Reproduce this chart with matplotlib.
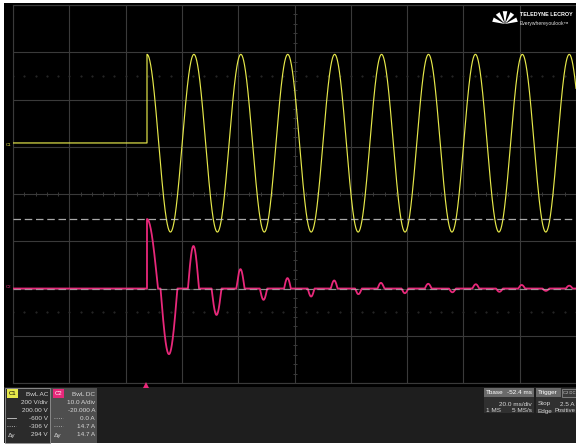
import numpy as np
import matplotlib
matplotlib.use('Agg')
import matplotlib.pyplot as plt
from matplotlib.patches import Rectangle, Polygon

''' Scope settings read off the screen '''
t_left = -47.6           # ms at left grid line (delay -52.4 ms, 20 ms/div)
ms_div = 20.0
v_div, v_offset = 200.0, 200.0    # C1
a_div, a_offset = 10.0, -20.0     # C2

''' C1 line voltage '''
v_pre = 16.0             # V before the switch closes
v_dc = 15.0
v_amp = 376.0
v_freq = 60.0            # Hz

''' C2 inrush current lobes: centre (ms), peak (A), width (ms) '''
lobe_t = [0.0, 7.8, 16.5, 24.7, 33.2, 41.4, 49.9, 58.3, 66.5, 75.1,
          83.1, 91.6, 99.9, 108.5, 116.8, 125.2, 133.1, 141.7, 150.0]
lobe_a = [14.7, -13.9, 9.0, -5.6, 4.1, -2.4, 2.2, -1.7, 1.7, -1.2,
          1.2, -1.0, 1.0, -0.8, 0.9, -0.7, 0.75, -0.5, 0.6]
lobe_w = [7.8, 6.0, 3.9, 3.5, 2.9, 2.6, 2.4, 2.4, 2.4, 2.4,
          2.4, 2.4, 2.4, 2.4, 2.4, 2.4, 2.4, 2.4, 2.4]

cursor_v = [-306.0]
cursor_a = [0.0]

c1_lines = ['200 V/div', '200.00 V', '-600 V', '-306 V', '294 V']
c2_lines = ['10.0 A/div', '-20.000 A', '0.0 A', '14.7 A', '14.7 A']

YEL = '#e6e84a'
PNK = '#e8287a'
GRID = '#3a3a3a'

W, H = 576, 445
fig = plt.figure(figsize=(W / 100, H / 100), dpi=100, facecolor='white')


def fx(px):
    return px / W


def fy(py):
    return 1 - py / H


def box(x0, y0, x1, y1, fc, ec='none', lw=0.6):
    fig.add_artist(Rectangle((fx(x0), fy(y1)), fx(x1) - fx(x0), fy(y0) - fy(y1),
                             transform=fig.transFigure, fc=fc, ec=ec, lw=lw,
                             zorder=-1))


def txt(px, py, s, ha='left', size=4.6, color='#d8d8d8', **kw):
    fig.text(fx(px), fy(py), s, ha=ha, va='center', fontsize=size, color=color,
             family=['Liberation Sans Narrow', 'Liberation Sans', 'DejaVu Sans'], **kw)


# screen + bottom panel
box(4, 3, 576, 387, 'black')
box(4, 387, 576, 443, '#1e1e1e')

ax = fig.add_axes([fx(13), fy(383), fx(576) - fx(13), fy(5) - fy(383)])
ax.set_facecolor('none')
t_right = t_left + 10 * ms_div
ax.set_xlim(t_left, t_right)
ax.set_ylim(-4 * v_div - v_offset, 4 * v_div - v_offset)
ax.set_xticks(np.arange(t_left, t_right + 0.1, ms_div))
ax.set_yticks(np.arange(-4, 4.1, 1) * v_div - v_offset)
ax.grid(True, color=GRID, lw=0.8)
ax.tick_params(length=0, labelleft=False, labelbottom=False)
for s in ax.spines.values():
    s.set_color(GRID)
    s.set_linewidth(0.8)

axi = ax.twinx()
axi.set_ylim(-4 * a_div - a_offset, 4 * a_div - a_offset)
axi.set_yticks([])
for s in axi.spines.values():
    s.set_visible(False)

# centre-line minor ticks and dotted rows
tc = t_left + 5 * ms_div
vc = -v_offset
minor_t = np.arange(t_left, t_right + 0.1, ms_div / 5)
minor_v = np.arange(-4, 4.01, 0.2) * v_div - v_offset
ax.plot(minor_t, np.full_like(minor_t, vc), ls='none', marker='|', ms=3, mew=0.7, color=GRID)
ax.plot(np.full_like(minor_v, tc), minor_v, ls='none', marker='_', ms=3, mew=0.7, color=GRID)
for row in [vc + 2.5 * v_div, vc - 2.5 * v_div]:
    ax.plot(minor_t, np.full_like(minor_t, row), ls='none', marker='.', ms=1.0, color='#2e2e2e')

# C1 voltage
t_pre = np.linspace(t_left, 0, 400)
t_post = np.linspace(0, t_right, 4000)
t = np.concatenate([t_pre, t_post])
v = np.concatenate([np.full_like(t_pre, v_pre),
                    v_dc + v_amp * np.cos(2 * np.pi * v_freq * t_post / 1000.0)])
ax.plot(t, v, color=YEL, lw=0.85, zorder=3)

# C2 current
i = np.zeros_like(t_post)
for c, a, w in zip(lobe_t, lobe_a, lobe_w):
    m = np.abs(t_post - c) < w / 2
    i[m] += a * np.cos(np.pi * (t_post[m] - c) / w)
axi.plot(np.concatenate([t_pre, t_post]), np.concatenate([np.zeros_like(t_pre), i]),
         color=PNK, lw=1.3, zorder=3)

# cursors
for cv in cursor_v:
    ax.axhline(cv, color='#c8c8c8', lw=0.9, dashes=(6, 3), zorder=4, alpha=0.85)
for ca in cursor_a:
    axi.axhline(ca, color='#c8c8c8', lw=0.9, dashes=(6, 3), zorder=4, alpha=0.6)

# channel ground markers and trigger marker
txt(9, 145, 'C1', ha='center', size=3.2, color=YEL)
txt(9, 287, 'C2', ha='center', size=3.2, color=PNK)
fig.add_artist(Polygon([[fx(143), fy(388)], [fx(149), fy(388)], [fx(146), fy(382)]],
                       closed=True, transform=fig.transFigure, fc=PNK, ec='none'))

# logo
cx, cy = 505, 24
for ang in [-70, -35, 0, 35, 70]:
    a0 = np.deg2rad(ang - 90 - 10)
    a1 = np.deg2rad(ang - 90 + 10)
    r = 13
    pts = [[fx(cx), fy(cy)],
           [fx(cx + r * np.cos(a0)), fy(cy + r * np.sin(a0))],
           [fx(cx + r * np.cos(a1)), fy(cy + r * np.sin(a1))]]
    fig.add_artist(Polygon(pts, closed=True, transform=fig.transFigure, fc='white', ec='none'))
txt(520, 15, 'TELEDYNE LECROY', size=3.9, color='white', weight='bold')
txt(520, 23, 'Everywhereyoulook\u2122', size=3.6, color='#e0e0e0')

# C1 / C2 descriptor boxes
box(5, 388, 50, 443, '#2b2b2b', ec='#9a9a9a', lw=0.6)
box(51, 388, 97, 443, '#4e4e4e')
box(7, 389, 18, 398, YEL)
box(53, 389, 64, 398, PNK)
txt(12.5, 393.5, 'C1', ha='center', size=4.3, color='black')
txt(58.5, 393.5, 'C2', ha='center', size=4.3, color='white')
txt(48, 394, 'BwL AC', ha='right')
txt(95, 394, 'BwL DC', ha='right')
rows_y = [402, 410, 418, 426, 435]
for yy, s1, s2 in zip(rows_y, c1_lines, c2_lines):
    txt(48, yy, s1, ha='right')
    txt(95, yy, s2, ha='right')
fig.add_artist(plt.Line2D([fx(7), fx(16)], [fy(418), fy(418)], transform=fig.transFigure,
                          color='#cccccc', lw=0.6))
fig.add_artist(plt.Line2D([fx(7), fx(16)], [fy(426), fy(426)], transform=fig.transFigure,
                          color='#cccccc', lw=0.6, ls=':'))
for yy in [418, 426]:
    fig.add_artist(plt.Line2D([fx(54), fx(63)], [fy(yy), fy(yy)], transform=fig.transFigure,
                              color='#bbbbbb', lw=0.6, ls=':'))
txt(8, 435, '\u0394y', size=4.6)
txt(54, 435, '\u0394y', size=4.6)

# timebase / trigger boxes
box(484, 388, 534, 413, '#303030')
box(484, 388, 534, 397, '#6a6a6a')
txt(486, 392.5, 'Tbase', color='white')
txt(532, 392.5, '-52.4 ms', ha='right', color='white')
txt(532, 404, '20.0 ms/div', ha='right')
txt(486, 411, '1 MS')
txt(532, 411, '5 MS/s', ha='right')
box(536, 388, 576, 413, '#303030')
box(536, 388, 561, 397, '#6a6a6a')
box(562, 389, 576, 397, '#3a3a3a', ec='#9a9a9a', lw=0.5)
txt(538, 392.5, 'Trigger', color='white')
txt(569, 393, 'C2 DC', ha='center', size=3.0)
txt(538, 404, 'Stop')
txt(575, 404, '2.5 A', ha='right')
txt(538, 411, 'Edge')
txt(575, 411, 'Positive', ha='right', size=4.2)

fig.savefig('out.png', dpi=100, facecolor=fig.get_facecolor())
